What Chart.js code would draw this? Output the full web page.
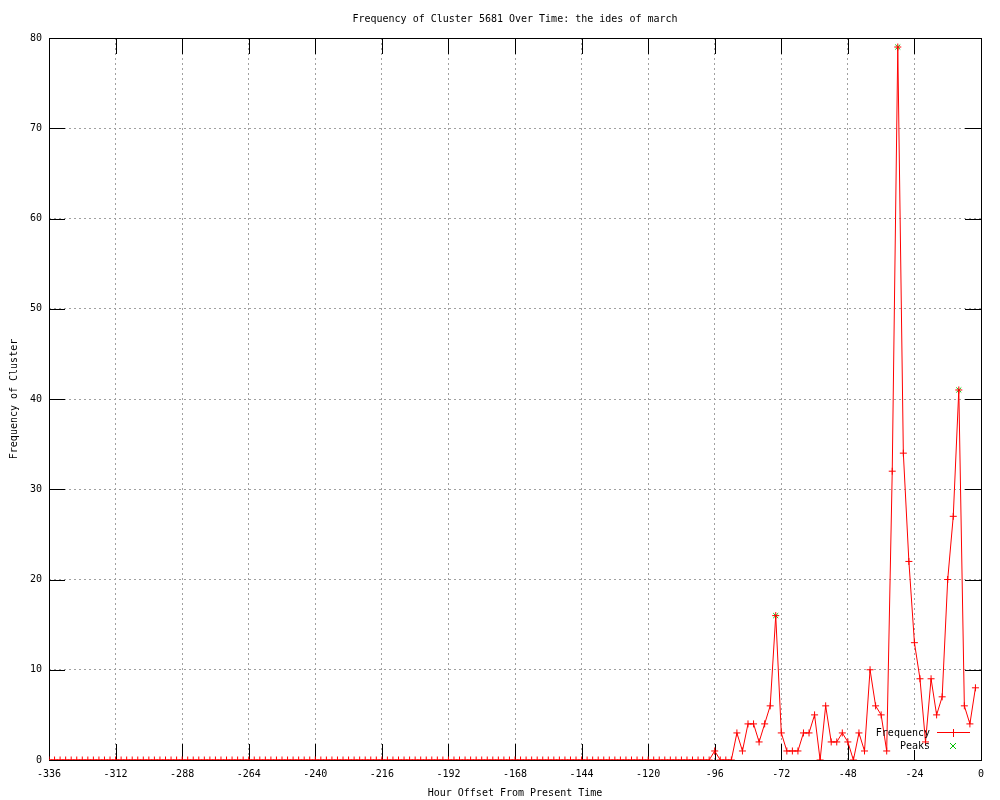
<!DOCTYPE html>
<html>
<head>
<meta charset="utf-8">
<script src="https://cdn.jsdelivr.net/npm/chart.js@4"></script>
<style>
  html, body { margin: 0; padding: 0; background: #fff; }
  canvas { display: block; }
</style>
</head>
<body>
<canvas id="chart" width="1000" height="800"></canvas>
<script>
// hour offsets, one point every 2 hours
const hours = [
  -336, -334, -332, -330, -328, -326, -324, -322, -320, -318, -316, -314,
  -312, -310, -308, -306, -304, -302, -300, -298, -296, -294, -292, -290,
  -288, -286, -284, -282, -280, -278, -276, -274, -272, -270, -268, -266,
  -264, -262, -260, -258, -256, -254, -252, -250, -248, -246, -244, -242,
  -240, -238, -236, -234, -232, -230, -228, -226, -224, -222, -220, -218,
  -216, -214, -212, -210, -208, -206, -204, -202, -200, -198, -196, -194,
  -192, -190, -188, -186, -184, -182, -180, -178, -176, -174, -172, -170,
  -168, -166, -164, -162, -160, -158, -156, -154, -152, -150, -148, -146,
  -144, -142, -140, -138, -136, -134, -132, -130, -128, -126, -124, -122,
  -120, -118, -116, -114, -112, -110, -108, -106, -104, -102, -100, -98,
  -96, -94, -92, -90, -88, -86, -84, -82, -80, -78, -76, -74,
  -72, -70, -68, -66, -64, -62, -60, -58, -56, -54, -52, -50,
  -48, -46, -44, -42, -40, -38, -36, -34, -32, -30, -28, -26,
  -24, -22, -20, -18, -16, -14, -12, -10, -8, -6, -4, -2
];

const frequency = [
  0, 0, 0, 0, 0, 0, 0, 0, 0, 0, 0, 0,
  0, 0, 0, 0, 0, 0, 0, 0, 0, 0, 0, 0,
  0, 0, 0, 0, 0, 0, 0, 0, 0, 0, 0, 0,
  0, 0, 0, 0, 0, 0, 0, 0, 0, 0, 0, 0,
  0, 0, 0, 0, 0, 0, 0, 0, 0, 0, 0, 0,
  0, 0, 0, 0, 0, 0, 0, 0, 0, 0, 0, 0,
  0, 0, 0, 0, 0, 0, 0, 0, 0, 0, 0, 0,
  0, 0, 0, 0, 0, 0, 0, 0, 0, 0, 0, 0,
  0, 0, 0, 0, 0, 0, 0, 0, 0, 0, 0, 0,
  0, 0, 0, 0, 0, 0, 0, 0, 0, 0, 0, 0,
  1, 0, 0, 0, 3, 1, 4, 4, 2, 4, 6, 16,
  3, 1, 1, 1, 3, 3, 5, 0, 6, 2, 2, 3,
  2, 0, 3, 1, 10, 6, 5, 1, 32, 79, 34, 22,
  13, 9, 2, 9, 5, 7, 20, 27, 41, 6, 4, 8
];

const peakHours = [-74, -30, -8];
const peakValues = [16, 79, 41];

const RED = '#ff0000';
const GREEN = '#00c000';
const FONT = '"DejaVu Sans Mono", monospace';

Chart.defaults.font.family = FONT;
Chart.defaults.font.size = 10;
Chart.defaults.color = '#000';

// gnuplot style frame: box, inward ticks on all sides, key in the lower right
const framePlugin = {
  id: 'frame',
  beforeDatasetsDraw(chart) {
    const { ctx, chartArea: a, scales: { x, y } } = chart;
    const len = 16;
    ctx.save();
    ctx.strokeStyle = '#000';
    ctx.lineWidth = 1;
    ctx.beginPath();
    x.ticks.forEach(t => {
      const px = Math.round(x.getPixelForValue(t.value)) + 0.5;
      ctx.moveTo(px, a.bottom); ctx.lineTo(px, a.bottom - len);
      ctx.moveTo(px, a.top); ctx.lineTo(px, a.top + len);
    });
    y.ticks.forEach(t => {
      const py = Math.round(y.getPixelForValue(t.value)) + 0.5;
      ctx.moveTo(a.left, py); ctx.lineTo(a.left + len, py);
      ctx.moveTo(a.right, py); ctx.lineTo(a.right - len, py);
    });
    ctx.stroke();

    // key area hides the grid behind it
    ctx.fillStyle = '#fff';
    ctx.fillRect(a.right - 111, a.bottom - 34, 105, 24);

    ctx.strokeRect(a.left + 0.5, a.top + 0.5, a.right - a.left, a.bottom - a.top);
    ctx.restore();
  },
  afterDatasetsDraw(chart) {
    const { ctx, chartArea: a } = chart;
    const textX = a.right - 51;
    const symX = a.right - 28;
    const row1 = a.bottom - 27;
    const row2 = a.bottom - 14;
    ctx.save();
    ctx.font = '10px ' + FONT;
    ctx.fillStyle = '#000';
    ctx.textAlign = 'right';
    ctx.textBaseline = 'middle';
    ctx.fillText('Frequency', textX, row1);
    ctx.fillText('Peaks', textX, row2);

    ctx.lineWidth = 1;
    ctx.strokeStyle = RED;
    ctx.beginPath();
    ctx.moveTo(a.right - 44, row1 - 0.5); ctx.lineTo(a.right - 11, row1 - 0.5);
    ctx.moveTo(symX + 0.5, row1 - 4); ctx.lineTo(symX + 0.5, row1 + 4);
    ctx.stroke();

    ctx.strokeStyle = GREEN;
    ctx.beginPath();
    ctx.moveTo(symX - 3, row2 - 3); ctx.lineTo(symX + 3, row2 + 3);
    ctx.moveTo(symX + 3, row2 - 3); ctx.lineTo(symX - 3, row2 + 3);
    ctx.stroke();
    ctx.restore();
  }
};

const ctx = document.getElementById('chart').getContext('2d');
new Chart(ctx, {
  type: 'line',
  data: {
    datasets: [
      {
        label: 'Frequency',
        data: hours.map((h, i) => ({ x: h, y: frequency[i] })),
        borderColor: RED,
        borderWidth: 1,
        tension: 0,
        fill: false,
        pointStyle: 'cross',
        pointRadius: 3.5,
        pointBorderColor: RED,
        pointBorderWidth: 1
      },
      {
        label: 'Peaks',
        data: peakHours.map((h, i) => ({ x: h, y: peakValues[i] })),
        showLine: false,
        pointStyle: 'crossRot',
        pointRadius: 3.5,
        pointBorderColor: GREEN,
        pointBackgroundColor: GREEN,
        pointBorderWidth: 1
      }
    ]
  },
  options: {
    responsive: false,
    animation: false,
    events: [],
    layout: { padding: { left: 0, right: 19, top: 0, bottom: 0 } },
    plugins: {
      legend: { display: false },
      tooltip: { enabled: false },
      title: {
        display: true,
        text: 'Frequency of Cluster 5681 Over Time: the ides of march',
        fullSize: false,
        color: '#000',
        font: { size: 10, weight: 'normal', family: FONT },
        padding: { top: 13, bottom: 13 }
      }
    },
    scales: {
      x: {
        type: 'linear',
        min: -336,
        max: 0,
        ticks: { stepSize: 24, padding: 8, color: '#000' },
        grid: { color: '#a0a0a0', drawTicks: false },
        border: { display: false, dash: [2, 3] },
        title: {
          display: true,
          text: 'Hour Offset From Present Time',
          color: '#000',
          padding: { top: 0, bottom: 1 }
        },
        afterFit(scale) { scale.height = 40; }
      },
      y: {
        min: 0,
        max: 80,
        ticks: { stepSize: 10, padding: 7, color: '#000' },
        grid: { color: '#a0a0a0', drawTicks: false },
        border: { display: false, dash: [2, 3] },
        title: {
          display: true,
          text: 'Frequency of Cluster',
          color: '#000',
          padding: { top: 8, bottom: 0 }
        },
        afterFit(scale) { scale.width = 49; }
      }
    }
  },
  plugins: [framePlugin]
});
</script>
</body>
</html>
